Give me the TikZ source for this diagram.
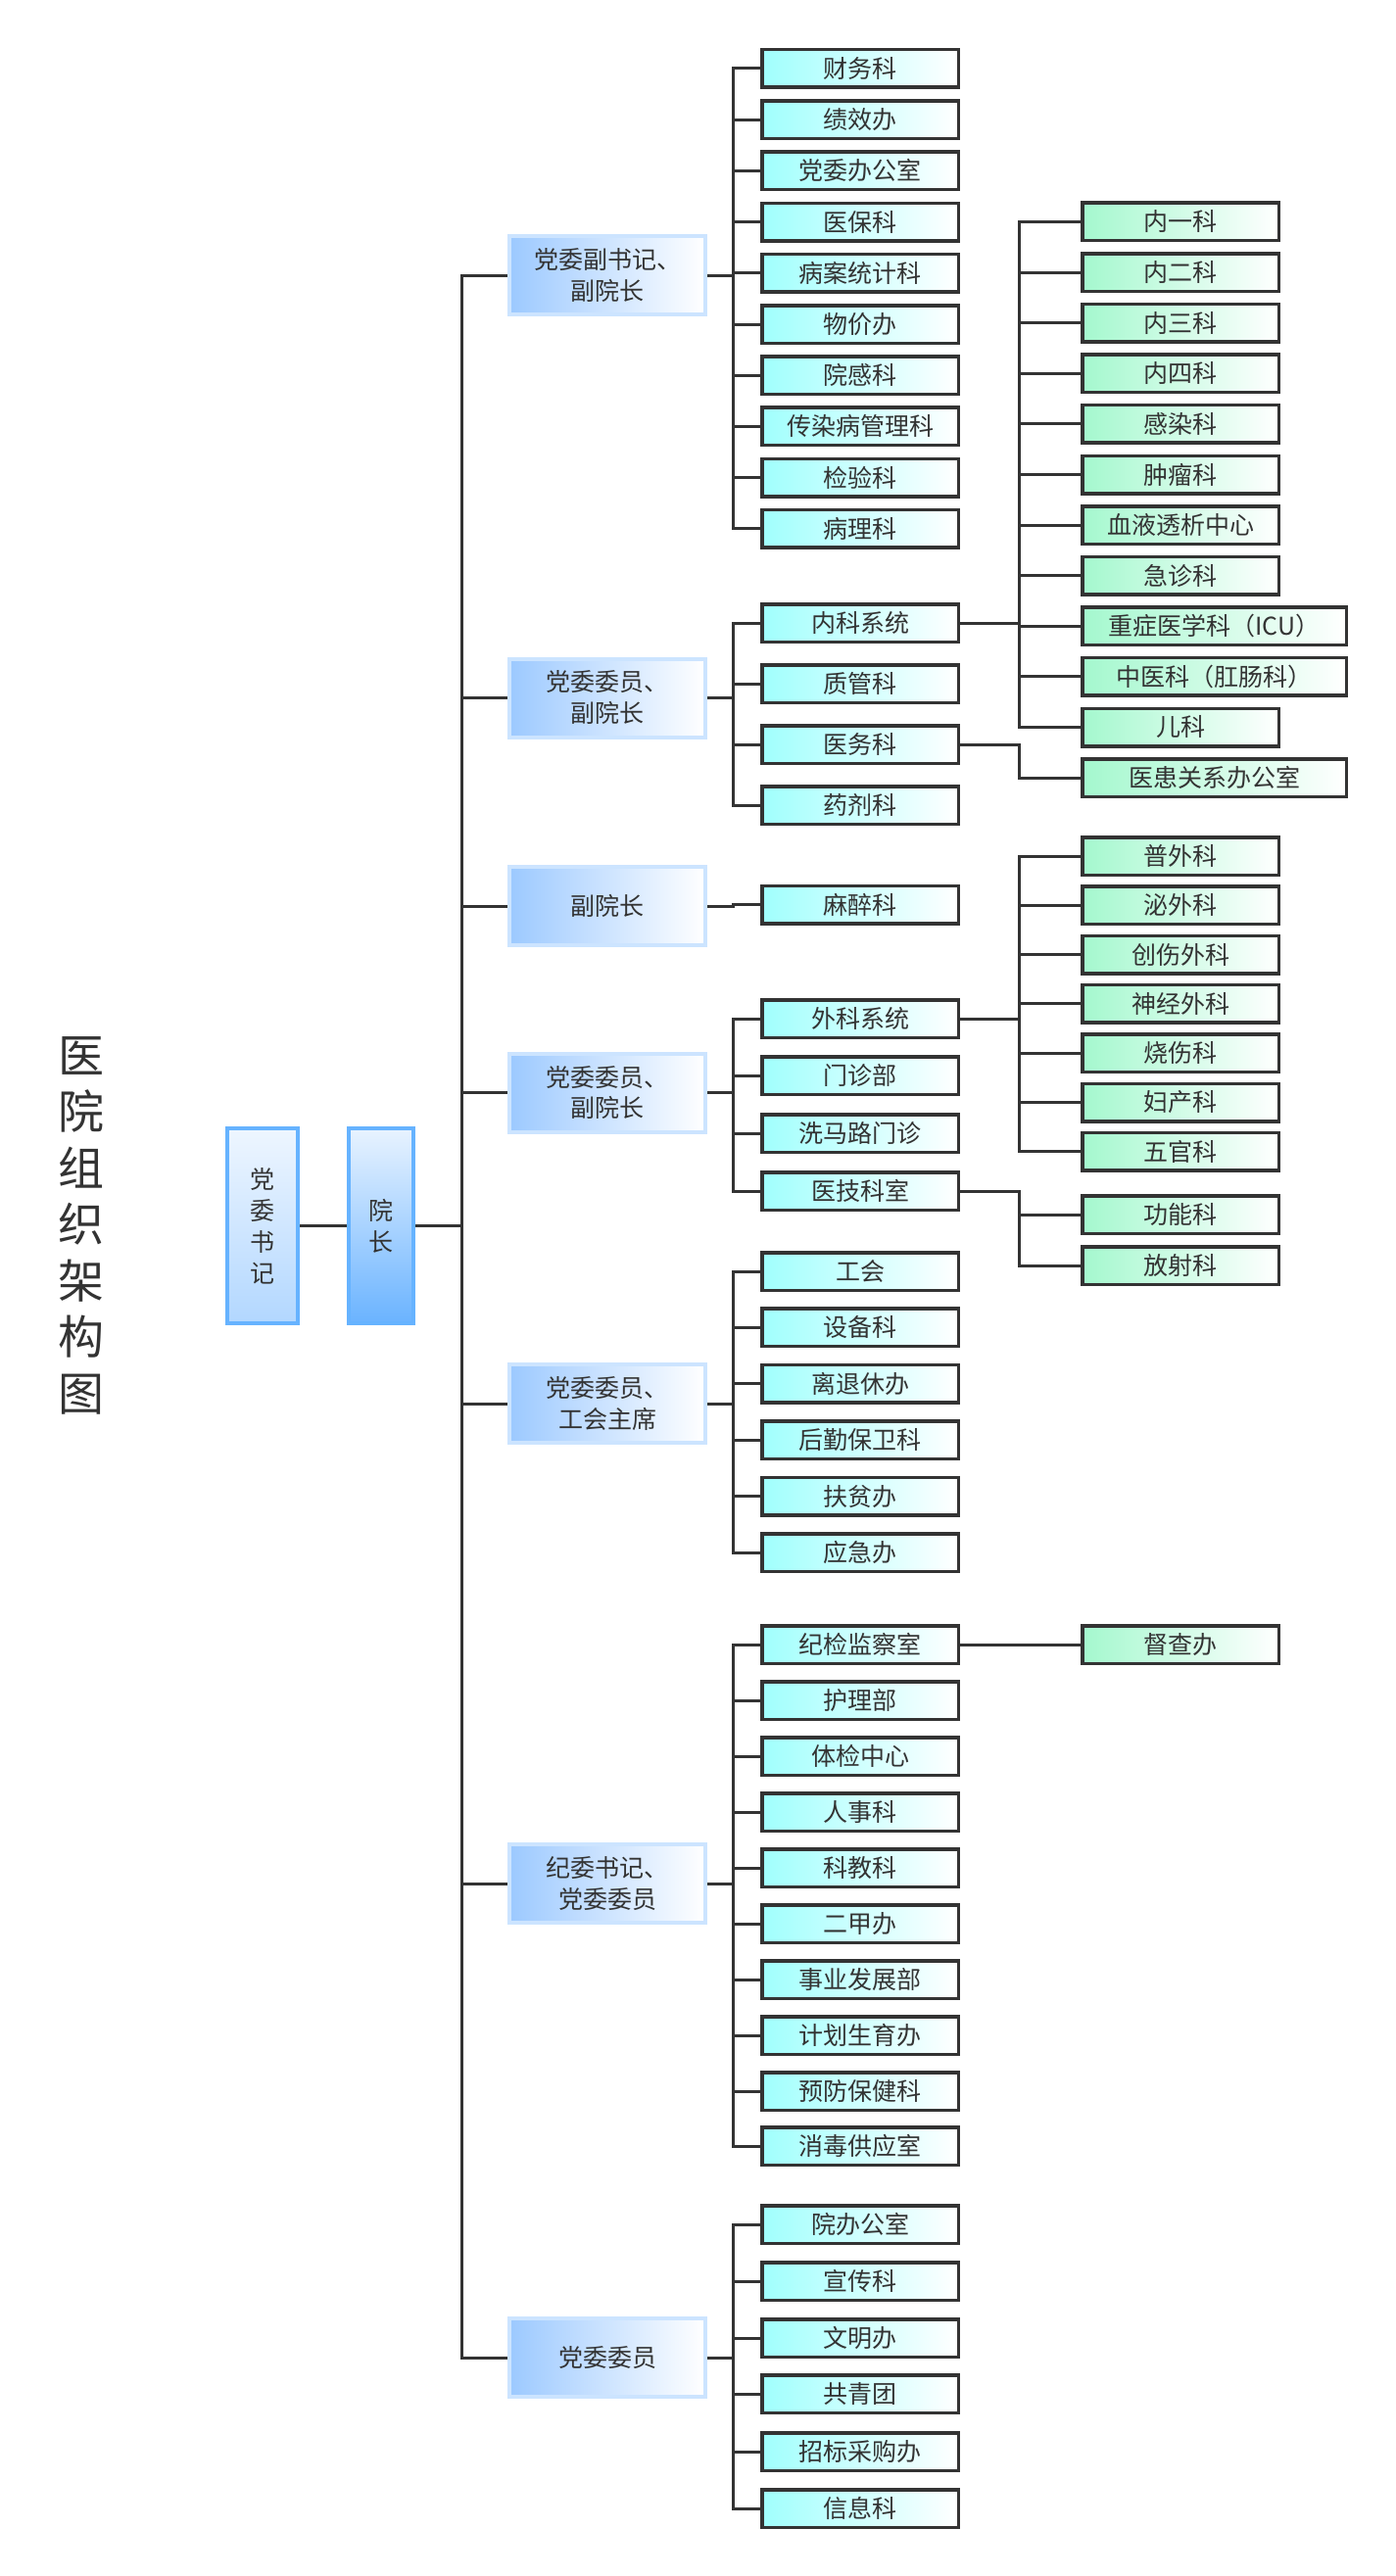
\documentclass[tikz,border=0pt]{standalone}
\usepackage{fontspec}
\setmainfont{Noto Sans CJK SC}
\definecolor{ink}{HTML}{333333}
\definecolor{cyanL}{HTML}{A0FFFD}
\definecolor{mintL}{HTML}{A4F8CE}
\definecolor{blueL}{HTML}{9CC9FF}
\definecolor{blueB}{HTML}{CCE4FF}
\definecolor{topB}{HTML}{66B3FF}
\definecolor{dwTop}{HTML}{EEF6FF}
\definecolor{dwBot}{HTML}{B2D7FF}
\definecolor{yzTop}{HTML}{E8F3FF}
\definecolor{yzBot}{HTML}{6AB3FF}
\begin{document}
\begin{tikzpicture}[x=1pt,y=-1pt,
  conn/.style={draw=ink, line width=3pt},
  lvthree/.style={draw=ink, line width=3.5pt, left color=cyanL, right color=white,
    minimum width=200.5pt, minimum height=38.5pt, inner sep=0pt, text=ink,
    font=\fontsize{25}{30}\selectfont},
  lvfour/.style={lvthree, left color=mintL, right color=white, anchor=west},
  wide/.style={minimum width=269.5pt},
  lvtwo/.style={draw=blueB, line width=4pt, left color=blueL, right color=white,
    minimum width=200pt, minimum height=80pt, inner sep=0pt, align=center, text=ink,
    font=\fontsize{25}{32}\selectfont},
  topbox/.style={draw=topB, line width=4pt, inner sep=0pt, align=center, text=ink,
    font=\fontsize{25}{32}\selectfont, minimum height=199pt},
]
\useasboundingbox (0,0) rectangle (1424,2630);

% title
\node[text=ink, align=center, font=\fontsize{47}{57.5}\selectfont] (title) at (83,1251) {医\\院\\组\\织\\架\\构\\图};

% top level
\node[topbox, top color=dwTop, bottom color=dwBot, minimum width=72pt] (dw) at (268,1251.5) {党\\委\\书\\记};
\node[topbox, top color=yzTop, bottom color=yzBot, minimum width=66pt] (yz) at (389,1251.5) {院\\长};
\draw[conn] (dw.east) -- (yz.west);

% level 2
\node[lvtwo] (g1) at (620,281) {党委副书记、\\副院长};
\node[lvtwo] (g2) at (620,712.5) {党委委员、\\副院长};
\node[lvtwo] (g3) at (620,925) {副院长};
\node[lvtwo] (g4) at (620,1115.5) {党委委员、\\副院长};
\node[lvtwo] (g5) at (620,1433) {党委委员、\\工会主席};
\node[lvtwo] (g6) at (620,1923) {纪委书记、\\党委委员};
\node[lvtwo] (g7) at (620,2407) {党委委员};
\foreach \g in {g1,g2,g3,g4,g5,g6,g7}
  \draw[conn] (yz.east) -- ++(47,0) |- (\g.west);

% group 1
\foreach \n/\y/\t in {a1/70/财务科, a2/122.2/绩效办, a3/174.4/党委办公室, a4/226.6/医保科,
  a5/278.8/病案统计科, a6/331/物价办, a7/383.2/院感科, a8/435.4/传染病管理科,
  a9/487.6/检验科, a10/539.8/病理科}{
  \node[lvthree] (\n) at (878,\y) {\t};
  \draw[conn] (g1.east) -- ++(26,0) |- (\n.west);
}

% group 2
\foreach \n/\y/\t in {b1/636/内科系统, b2/698/质管科, b3/760/医务科, b4/822/药剂科}{
  \node[lvthree] (\n) at (878,\y) {\t};
  \draw[conn] (g2.east) -- ++(26,0) |- (\n.west);
}
\foreach \n/\y/\t in {n1/226.5/内一科, n2/278.1/内二科, n3/329.7/内三科, n4/381.3/内四科,
  n5/432.9/感染科, n6/484.5/肿瘤科, n7/536.1/血液透析中心, n8/587.7/急诊科, n11/742.5/儿科}{
  \node[lvfour] (\n) at (1103,\y) {\t};
  \draw[conn] (b1.east) -- ++(60,0) |- (\n.west);
}
\node[lvfour, wide] (n9) at (1103,639.3) {重症医学科（ICU）};
\node[lvfour, wide] (n10) at (1103,690.9) {中医科（肛肠科）};
\draw[conn] (b1.east) -- ++(60,0) |- (n9.west);
\draw[conn] (b1.east) -- ++(60,0) |- (n10.west);
\node[lvfour, wide] (m1) at (1103,794.1) {医患关系办公室};
\draw[conn] (b3.east) -- ++(60,0) |- (m1.west);

% group 3
\node[lvthree] (c1) at (878,923.5) {麻醉科};
\draw[conn] (g3.east) -- ++(26,0) |- (c1.west);

% group 4
\foreach \n/\y/\t in {d1/1040/外科系统, d2/1098/门诊部, d3/1157/洗马路门诊, d4/1216/医技科室}{
  \node[lvthree] (\n) at (878,\y) {\t};
  \draw[conn] (g4.east) -- ++(26,0) |- (\n.west);
}
\foreach \n/\y/\t in {s1/874/普外科, s2/924.3/泌外科, s3/974.6/创伤外科, s4/1024.9/神经外科,
  s5/1075.2/烧伤科, s6/1125.5/妇产科, s7/1175.8/五官科}{
  \node[lvfour] (\n) at (1103,\y) {\t};
  \draw[conn] (d1.east) -- ++(60,0) |- (\n.west);
}
\foreach \n/\y/\t in {t1/1240/功能科, t2/1292/放射科}{
  \node[lvfour] (\n) at (1103,\y) {\t};
  \draw[conn] (d4.east) -- ++(60,0) |- (\n.west);
}

% group 5
\foreach \n/\y/\t in {e1/1298/工会, e2/1355.4/设备科, e3/1412.8/离退休办, e4/1470.2/后勤保卫科,
  e5/1527.6/扶贫办, e6/1585/应急办}{
  \node[lvthree] (\n) at (878,\y) {\t};
  \draw[conn] (g5.east) -- ++(26,0) |- (\n.west);
}

% group 6
\foreach \n/\y/\t in {f1/1679/纪检监察室, f2/1736/护理部, f3/1793/体检中心, f4/1850/人事科,
  f5/1907/科教科, f6/1964/二甲办, f7/2021/事业发展部, f8/2078/计划生育办,
  f9/2135/预防保健科, f10/2191/消毒供应室}{
  \node[lvthree] (\n) at (878,\y) {\t};
  \draw[conn] (g6.east) -- ++(26,0) |- (\n.west);
}
\node[lvfour] (u1) at (1103,1679) {督查办};
\draw[conn] (f1.east) -- (u1.west);

% group 7
\foreach \n/\y/\t in {h1/2271/院办公室, h2/2329/宣传科, h3/2387/文明办, h4/2444/共青团,
  h5/2503/招标采购办, h6/2561/信息科}{
  \node[lvthree] (\n) at (878,\y) {\t};
  \draw[conn] (g7.east) -- ++(26,0) |- (\n.west);
}
\end{tikzpicture}
\end{document}
